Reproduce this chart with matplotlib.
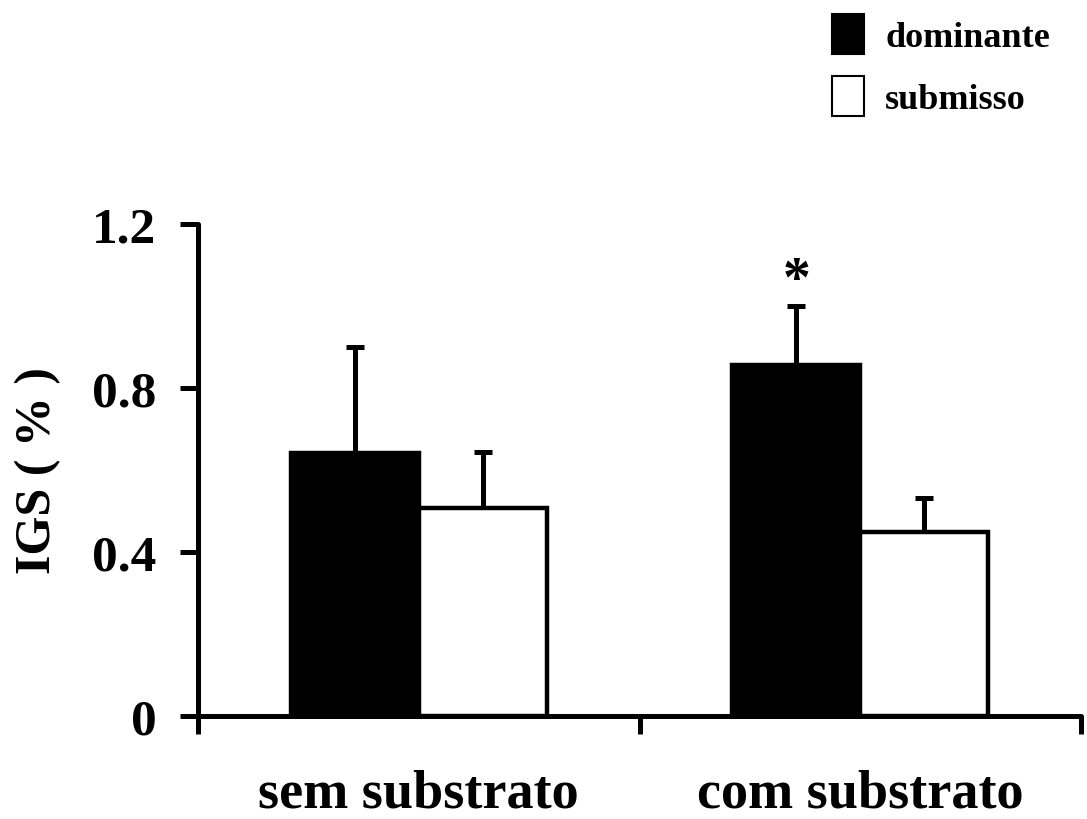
import numpy as np
import matplotlib
matplotlib.use("Agg")
import matplotlib.pyplot as plt

plt.rcParams["font.family"] = ["Liberation Serif", "DejaVu Serif"]
plt.rcParams["font.weight"] = "bold"

groups = ["sem substrato", "com substrato"]
series = ["dominante", "submisso"]
dominante = [0.64, 0.855]
submisso = [0.507, 0.448]
dominante_err = [0.26, 0.145]
submisso_err = [0.137, 0.082]

fig = plt.figure(figsize=(10.87, 8.2), dpi=100)
ax = fig.add_axes([0.1822, 0.126, 0.8123, 0.6])

x = np.array([0.5, 1.5])
w = 0.29

ax.errorbar(x - w / 2, dominante, yerr=[np.zeros(2), dominante_err], fmt="none",
            ecolor="black", elinewidth=3.6, capsize=6.5, capthick=3.6, zorder=1)
ax.errorbar(x + w / 2, submisso, yerr=[np.zeros(2), submisso_err], fmt="none",
            ecolor="black", elinewidth=3.6, capsize=6.5, capthick=3.6, zorder=1)
ax.bar(x - w / 2, dominante, w, color="black", edgecolor="black", linewidth=3.2,
       label=series[0], zorder=2)
ax.bar(x + w / 2, submisso, w, color="white", edgecolor="black", linewidth=3.2,
       label=series[1], zorder=2)

# significance mark
ax.text(x[1] - w / 2, dominante[1] + dominante_err[1] + 0.06, "*", ha="center",
        va="center", fontsize=40, fontweight="bold")

ax.set_xlim(0, 2)
ax.set_ylim(0, 1.2)
ax.set_yticks([0, 0.4, 0.8, 1.2])
ax.set_yticklabels(["0", "0.4", "0.8", "1.2"])
ax.set_xticks([0, 1, 2])
ax.set_xticklabels([])
ax.set_xticks(x, minor=True)
ax.set_xticklabels(groups, minor=True)
ax.tick_params(axis="x", which="minor", length=0, pad=38, labelsize=39)
ax.tick_params(axis="both", which="major", length=13, width=3.6, direction="out",
               labelsize=37, pad=17)
ax.set_ylabel("IGS ( % )", fontsize=36, fontweight="bold", labelpad=22)

for s in ["top", "right"]:
    ax.spines[s].set_visible(False)
for s in ["left", "bottom"]:
    ax.spines[s].set_linewidth(3.6)
    ax.spines[s].set_capstyle("round")

leg = fig.legend(loc="upper left", bbox_to_anchor=(0.742, 1.012), frameon=False,
                 fontsize=26, handlelength=0.88, handleheight=1.32,
                 labelspacing=0.6, handletextpad=0.6, borderaxespad=0.3)
for h in leg.legend_handles:
    h.set_linewidth(1.5)

fig.savefig("out.png", dpi=100)
